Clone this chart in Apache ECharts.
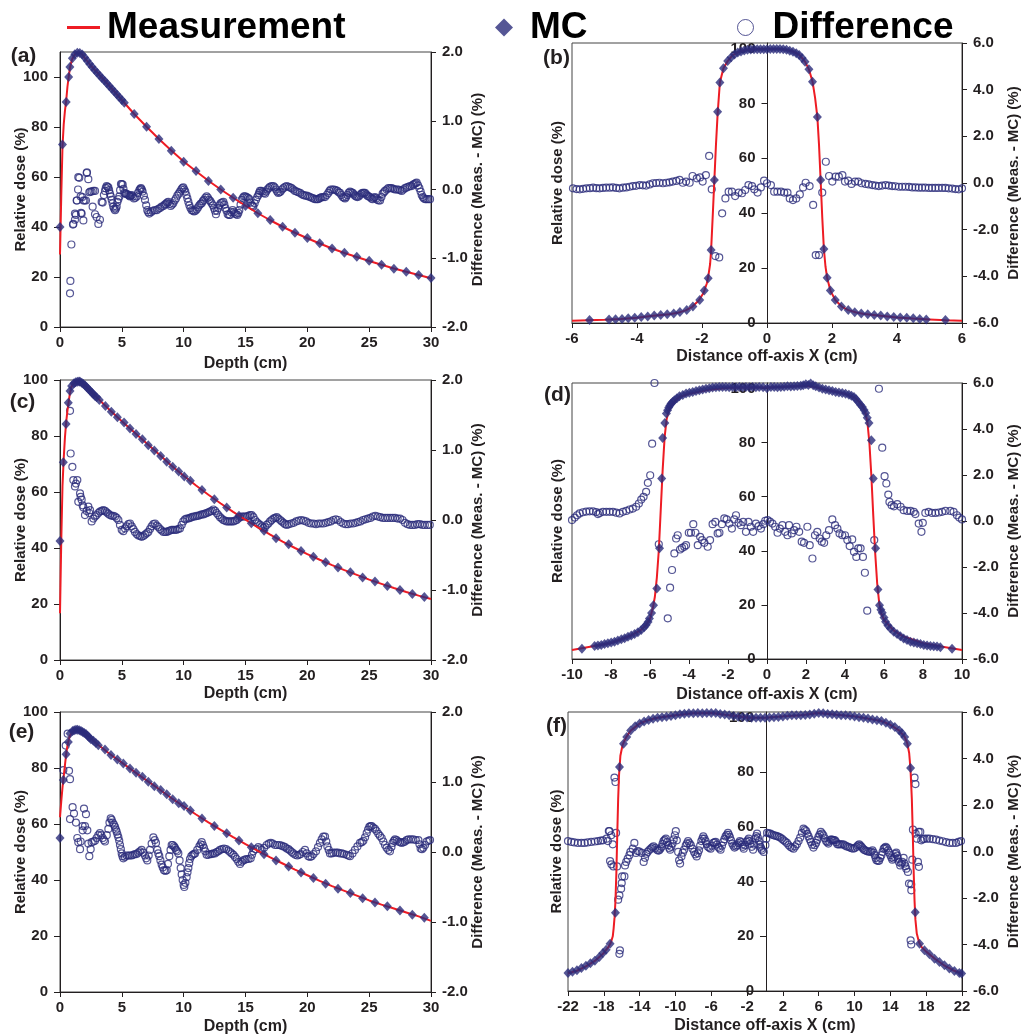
<!DOCTYPE html>
<html><head><meta charset="utf-8">
<script src="https://cdn.jsdelivr.net/npm/echarts@6/dist/echarts.min.js"></script>
<style>html,body{margin:0;padding:0;background:#fff}#c{width:1022px;height:1036px}</style>
</head><body><div id="c"></div>
<script>
// ---------- Panel (a) : depth dose, small field ----------
const measA = [[0,29],[0.1,52],[0.2,72],[0.3,81],[0.4,86.5],[0.5,90.5],[0.6,96],[0.7,100],[0.8,103.5],[0.9,105.8],[1.0,107.3],[1.2,109],[1.4,109.7],[1.6,109.6],[1.8,109],[2.0,107.6],[2.5,104.5],[3,101.8],[3.5,99.1],[4,96.4],[4.5,93.6],[5,90.8],[6,85.2],[7,80.1],[8,75.2],[9,70.6],[10,66.2],[11,62.3],[12,58.5],[13,55],[14,51.7],[15,48.5],[16,45.5],[17,42.7],[18,40.1],[19,37.7],[20,35.5],[21,33.4],[22,31.4],[23,29.6],[24,28],[25,26.4],[26,24.9],[27,23.4],[28,22.1],[29,20.8],[30,19.5]];
const mcA = [[0,40],[0.2,73],[0.5,90],[0.7,100],[0.8,104],[1.0,107.5],[1.2,109.1],[1.4,109.7],[1.6,109.6],[1.8,109],[2.0,107.8],[2.2,106.5],[2.4,105.2],[2.6,104],[2.8,102.8],[3.0,101.7],[3.2,100.6],[3.4,99.5],[3.6,98.5],[3.8,97.4],[4.0,96.3],[4.2,95.2],[4.4,94.1],[4.6,93],[4.8,91.9],[5.0,90.8],[5.2,89.7],[6,85.2],[7,80.1],[8,75.2],[9,70.5],[10,66.1],[11,62.4],[12,58.4],[13,55],[14,51.7],[15,48.4],[16,45.5],[17,42.8],[18,40.1],[19,37.7],[20,35.6],[21,33.5],[22,31.4],[23,29.7],[24,28.1],[25,26.5],[26,24.9],[27,23.3],[28,22.1],[29,20.8],[30,19.6]];
const diffA = [[0.81,-1.51],[0.84,-1.33],[0.92,-0.8],[1.05,-0.51],[1.08,-0.5],[1.21,-0.44],[1.21,-0.35],[1.29,-0.37],[1.35,-0.16],[1.37,-0.16],[1.46,0],[1.48,0.18],[1.56,0.17],[1.67,-0.1],[1.70,-0.34],[1.75,-0.35],[1.81,-0.11],[1.89,-0.45],[1.89,-0.16],[1.99,-0.16],[2.1,-0.16],[2.16,0.24],[2.18,0.25],[2.29,0.15],[2.37,-0.04],[2.45,-0.03],[2.56,-0.03],[2.64,-0.25],[2.70,-0.02],[2.83,-0.02],[2.83,-0.36],[2.96,-0.4],[3.10,-0.5],[3.23,-0.44],[3.37,-0.18],[3.45,-0.19],[3.55,-0.08],[3.64,-0.02],[3.7,0.02],[3.77,0.05],[3.84,0.04],[3.91,0.03],[3.97,-0.01],[4.04,-0.06],[4.11,-0.1],[4.18,-0.15],[4.25,-0.2],[4.31,-0.25],[4.38,-0.28],[4.45,-0.3],[4.52,-0.28],[4.58,-0.25],[4.64,-0.18],[4.72,-0.14],[4.8,-0.1],[4.86,-0.01],[4.93,0.08],[5.0,0.08],[5.07,0.07],[5.13,0.01],[5.2,-0.05],[5.27,-0.06],[5.35,-0.06],[5.44,-0.07],[5.53,-0.08],[5.6,-0.09],[5.66,-0.1],[5.73,-0.09],[5.8,-0.08],[5.89,-0.1],[5.98,-0.13],[6.09,-0.12],[6.2,-0.1],[6.31,-0.05],[6.42,-0.01],[6.49,0.01],[6.55,0.02],[6.62,0],[6.68,-0.03],[6.78,-0.09],[6.87,-0.15],[6.97,-0.23],[7.06,-0.3],[7.14,-0.33],[7.22,-0.35],[7.36,-0.33],[7.49,-0.31],[7.66,-0.3],[7.82,-0.3],[7.96,-0.28],[8.09,-0.27],[8.22,-0.25],[8.36,-0.24],[8.47,-0.22],[8.57,-0.21],[8.66,-0.19],[8.76,-0.18],[8.86,-0.21],[8.95,-0.24],[9.05,-0.22],[9.16,-0.2],[9.27,-0.16],[9.38,-0.13],[9.49,-0.09],[9.6,-0.06],[9.71,-0.03],[9.81,0],[9.89,0.02],[9.97,0.03],[10.05,0],[10.13,-0.03],[10.22,-0.08],[10.3,-0.13],[10.38,-0.18],[10.46,-0.23],[10.55,-0.27],[10.65,-0.3],[10.75,-0.31],[10.84,-0.32],[10.95,-0.31],[11.05,-0.29],[11.16,-0.26],[11.27,-0.23],[11.37,-0.21],[11.46,-0.2],[11.55,-0.17],[11.64,-0.15],[11.75,-0.12],[11.86,-0.1],[11.96,-0.12],[12.05,-0.15],[12.16,-0.17],[12.26,-0.2],[12.36,-0.23],[12.45,-0.27],[12.53,-0.31],[12.61,-0.36],[12.7,-0.31],[12.8,-0.27],[12.9,-0.23],[12.99,-0.2],[13.1,-0.19],[13.21,-0.18],[13.29,-0.22],[13.37,-0.27],[13.47,-0.31],[13.56,-0.36],[13.66,-0.37],[13.75,-0.37],[13.86,-0.33],[13.96,-0.3],[14.06,-0.33],[14.15,-0.35],[14.25,-0.36],[14.34,-0.37],[14.42,-0.34],[14.5,-0.3],[14.6,-0.22],[14.69,-0.15],[14.79,-0.12],[14.88,-0.1],[14.98,-0.1],[15.09,-0.11],[15.2,-0.12],[15.31,-0.14],[15.41,-0.19],[15.5,-0.23],[15.57,-0.24],[15.63,-0.25],[15.74,-0.2],[15.85,-0.15],[15.95,-0.11],[16.04,-0.08],[16.1,-0.05],[16.17,-0.02],[16.28,-0.02],[16.39,-0.03],[16.48,-0.05],[16.58,-0.06],[16.68,-0.03],[16.77,0],[16.88,0.02],[16.98,0.04],[17.11,0.05],[17.25,0.05],[17.36,0.03],[17.47,0],[17.56,-0.03],[17.65,-0.05],[17.75,-0.04],[17.84,-0.03],[17.95,0],[18.06,0.02],[18.2,0.04],[18.33,0.05],[18.47,0.04],[18.6,0.03],[18.73,0.02],[18.87,0],[19.0,-0.02],[19.14,-0.03],[19.27,-0.04],[19.41,-0.05],[19.55,-0.07],[19.68,-0.08],[19.82,-0.09],[19.95,-0.09],[20.09,-0.1],[20.22,-0.11],[20.36,-0.12],[20.49,-0.13],[20.62,-0.14],[20.75,-0.14],[20.86,-0.14],[20.97,-0.13],[21.06,-0.12],[21.16,-0.11],[21.3,-0.11],[21.43,-0.11],[21.57,-0.08],[21.7,-0.05],[21.8,-0.02],[21.89,0],[22.03,0],[22.16,0],[22.3,-0.01],[22.43,-0.02],[22.54,-0.04],[22.64,-0.05],[22.75,-0.08],[22.86,-0.11],[22.96,-0.12],[23.05,-0.13],[23.14,-0.11],[23.23,-0.08],[23.34,-0.05],[23.45,-0.03],[23.56,-0.04],[23.67,-0.05],[23.76,-0.07],[23.85,-0.09],[23.95,-0.1],[24.04,-0.11],[24.15,-0.1],[24.26,-0.08],[24.37,-0.06],[24.47,-0.05],[24.57,-0.05],[24.66,-0.05],[24.76,-0.07],[24.85,-0.09],[24.96,-0.1],[25.07,-0.11],[25.18,-0.13],[25.28,-0.14],[25.38,-0.12],[25.47,-0.11],[25.57,-0.13],[25.66,-0.15],[25.77,-0.16],[25.88,-0.16],[25.99,-0.11],[26.09,-0.06],[26.19,-0.04],[26.28,-0.02],[26.42,0],[26.55,0.02],[26.69,0.02],[26.82,0.02],[26.96,0.01],[27.09,0],[27.23,0],[27.36,0],[27.5,-0.01],[27.63,-0.02],[27.77,0],[27.9,0.02],[28.04,0.03],[28.17,0.04],[28.3,0.05],[28.44,0.05],[28.55,0.07],[28.65,0.08],[28.75,0.09],[28.84,0.1],[28.95,0.06],[29.06,0.02],[29.16,-0.03],[29.25,-0.08],[29.34,-0.11],[29.43,-0.13],[29.54,-0.14],[29.65,-0.14],[29.79,-0.14],[29.92,-0.14]];

// ---------- Panel (b) : off-axis profile, small field ----------
const measB = [[-6,0.8],[-5.5,1.0],[-5,1.2],[-4.5,1.5],[-4,1.9],[-3.5,2.6],[-3,3.2],[-2.75,3.7],[-2.5,4.6],[-2.3,5.9],[-2.1,8.2],[-1.95,11],[-1.85,14.5],[-1.8,17.5],[-1.75,21.5],[-1.72,26.5],[-1.67,39],[-1.62,52],[-1.57,65],[-1.52,76],[-1.45,87.6],[-1.34,92.8],[-1.21,95.4],[-1.06,97.6],[-0.85,98.8],[-0.65,99.4],[-0.4,99.7],[0,99.8],[0.4,99.8],[0.6,99.5],[0.8,98.9],[1.0,97.7],[1.17,95.2],[1.29,92.4],[1.4,88],[1.48,82],[1.55,75],[1.6,65],[1.65,52],[1.7,38.5],[1.75,27],[1.8,20.5],[1.85,16.5],[1.95,11.8],[2.1,8.4],[2.3,6],[2.5,4.7],[2.75,3.8],[3,3.3],[3.5,2.6],[4,2],[4.5,1.6],[5,1.3],[5.5,1.0],[6,0.8]];
const mcB = [[-5.46,1.1],[-4.86,1.3],[-4.66,1.4],[-4.46,1.5],[-4.27,1.7],[-4.07,1.9],[-3.87,2.2],[-3.67,2.4],[-3.47,2.7],[-3.27,2.9],[-3.07,3.2],[-2.87,3.5],[-2.68,4.0],[-2.47,4.7],[-2.28,6.0],[-2.07,8.4],[-1.93,11.8],[-1.81,16.3],[-1.72,26.6],[-1.62,52.1],[-1.52,77],[-1.45,87.6],[-1.34,92.8],[-1.21,95.4],[-1.1,96.8],[-1.0,97.8],[-0.9,98.5],[-0.8,98.9],[-0.7,99.3],[-0.6,99.5],[-0.5,99.6],[-0.4,99.7],[-0.3,99.7],[-0.2,99.7],[-0.1,99.7],[0,99.7],[0.1,99.8],[0.2,99.8],[0.3,99.8],[0.4,99.8],[0.5,99.7],[0.6,99.5],[0.7,99.2],[0.8,98.8],[0.9,98.3],[0.99,97.6],[1.08,96.5],[1.17,95.2],[1.29,92.4],[1.4,87.9],[1.55,75],[1.65,52.1],[1.75,27],[1.85,16.5],[1.95,11.8],[2.1,8.4],[2.29,6],[2.5,4.7],[2.7,3.9],[2.9,3.5],[3.1,3.2],[3.3,2.9],[3.5,2.7],[3.7,2.4],[3.9,2.2],[4.1,2.0],[4.3,1.9],[4.5,1.7],[4.7,1.5],[4.9,1.3],[5.49,1.1]];
const diffB = [[-5.97,-0.23],[-5.86,-0.26],[-5.76,-0.27],[-5.66,-0.25],[-5.56,-0.23],[-5.45,-0.22],[-5.35,-0.2],[-5.25,-0.22],[-5.15,-0.23],[-5.05,-0.21],[-4.95,-0.2],[-4.84,-0.2],[-4.74,-0.19],[-4.64,-0.21],[-4.54,-0.23],[-4.43,-0.2],[-4.33,-0.19],[-4.23,-0.16],[-4.13,-0.13],[-4.03,-0.12],[-3.92,-0.09],[-3.82,-0.1],[-3.72,-0.11],[-3.61,-0.06],[-3.51,-0.01],[-3.41,0],[-3.31,0.01],[-3.2,-0.01],[-3.1,0.01],[-3.0,0.03],[-2.9,0.06],[-2.79,0.09],[-2.69,0.13],[-2.59,0.01],[-2.49,0.06],[-2.38,0.01],[-2.29,0.3],[-2.16,0.2],[-2.06,0.24],[-1.98,0.06],[-1.88,0.34],[-1.78,1.16],[-1.7,-0.27],[-1.59,-3.13],[-1.47,-3.19],[-1.38,-1.3],[-1.28,-0.66],[-1.18,-0.37],[-1.08,-0.37],[-0.98,-0.56],[-0.87,-0.41],[-0.77,-0.44],[-0.67,-0.3],[-0.57,-0.09],[-0.46,-0.13],[-0.39,-0.27],[-0.29,-0.41],[-0.19,-0.19],[-0.09,0.1],[0,-0.01],[0.12,-0.09],[0.22,-0.37],[0.32,-0.37],[0.43,-0.37],[0.53,-0.41],[0.63,-0.41],[0.7,-0.66],[0.8,-0.73],[0.9,-0.66],[1.01,-0.49],[1.11,-0.19],[1.19,0.01],[1.31,-0.13],[1.42,-0.94],[1.5,-3.09],[1.6,-3.09],[1.7,-0.41],[1.81,0.91],[1.91,0.3],[2.01,0.06],[2.11,0.27],[2.21,0.27],[2.32,0.34],[2.4,0.06],[2.5,0.1],[2.6,-0.04],[2.71,0.06],[2.81,0.06],[2.91,-0.01],[3.03,-0.04],[3.13,-0.06],[3.24,-0.09],[3.34,-0.11],[3.44,-0.13],[3.54,-0.11],[3.65,-0.09],[3.75,-0.11],[3.85,-0.13],[3.95,-0.14],[4.06,-0.16],[4.16,-0.16],[4.26,-0.16],[4.37,-0.17],[4.47,-0.19],[4.57,-0.19],[4.67,-0.2],[4.77,-0.2],[4.87,-0.2],[4.98,-0.21],[5.08,-0.21],[5.18,-0.21],[5.28,-0.21],[5.39,-0.21],[5.49,-0.21],[5.59,-0.23],[5.7,-0.24],[5.8,-0.26],[5.9,-0.27],[6.0,-0.23]];

// ---------- Panel (c) : depth dose, medium field ----------
const measC = [[0,16.7],[0.1,42],[0.2,62],[0.3,72],[0.4,79.5],[0.5,85],[0.6,89],[0.7,92.3],[0.8,95.2],[0.9,97.2],[1.0,98.3],[1.2,99.1],[1.4,99.5],[1.6,99.5],[1.8,98.9],[2.0,98.1],[2.5,95.9],[3,93.7],[3.5,91.5],[4,89.4],[5,85.3],[6,81.3],[7,77.4],[8,73.5],[9,69.5],[10,65.8],[11,62.3],[12,59],[13,55.9],[14,52.9],[15,50.1],[16,47.4],[17,44.8],[18,42.3],[19,40],[20,37.8],[21,35.8],[22,33.9],[23,32.1],[24,30.4],[25,28.7],[26,27.2],[27,25.7],[28,24.3],[29,23],[30,21.8]];
const mcC = [[0,42.5],[0.27,70.6],[0.49,84.3],[0.67,91.9],[0.81,96.1],[0.94,97.9],[1.13,98.8],[1.27,99.2],[1.4,99.4],[1.54,99.5],[1.62,99.4],[1.76,99],[1.89,98.6],[2.03,98],[2.16,97.4],[2.3,96.8],[2.43,96.2],[2.57,95.5],[2.7,94.9],[2.83,94.3],[2.96,93.8],[3.18,92.9],[3.67,90.7],[4.15,88.7],[4.64,86.7],[5.18,84.8],[5.66,82.7],[6.15,80.7],[6.66,78.8],[7.14,76.7],[7.63,74.8],[8.14,72.9],[8.63,70.8],[9.11,69],[9.6,67.3],[10.05,65.5],[10.54,64],[11.48,60.7],[12.48,57.4],[13.48,54.5],[14.47,51.5],[15.47,48.8],[16.5,46.2],[17.47,43.5],[18.49,41.3],[19.49,38.9],[20.49,36.9],[21.48,34.9],[22.48,33],[23.48,31.3],[24.47,29.5],[25.47,28],[26.47,26.4],[27.49,25],[28.49,23.6],[29.46,22.5]];
const diffC = [[0.81,1.56],[0.86,0.95],[1.0,0.76],[1.08,0.57],[1.21,0.48],[1.29,0.52],[1.4,0.57],[1.48,0.26],[1.62,0.38],[1.67,0.33],[1.75,0.29],[1.83,0.21],[1.89,0.18],[2.02,0.07],[2.16,0.13],[2.29,0.19],[2.37,0.1],[2.43,0.14],[2.56,-0.02],[2.7,0.02],[2.83,0.05],[2.96,0.07],[3.1,0.1],[3.23,0.12],[3.37,0.13],[3.5,0.14],[3.64,0.13],[3.77,0.11],[3.9,0.09],[4.04,0.07],[4.18,0.06],[4.31,0.06],[4.45,0.05],[4.58,0.03],[4.72,0],[4.85,-0.07],[4.99,-0.14],[5.12,-0.16],[5.26,-0.12],[5.39,-0.09],[5.53,-0.06],[5.66,-0.05],[5.8,-0.09],[5.93,-0.13],[6.06,-0.17],[6.2,-0.2],[6.33,-0.22],[6.47,-0.23],[6.6,-0.24],[6.74,-0.23],[6.87,-0.21],[7.01,-0.19],[7.14,-0.17],[7.28,-0.13],[7.41,-0.09],[7.55,-0.06],[7.68,-0.05],[7.82,-0.08],[7.95,-0.1],[8.09,-0.13],[8.22,-0.15],[8.36,-0.17],[8.5,-0.17],[8.63,-0.17],[8.76,-0.16],[8.9,-0.15],[9.03,-0.14],[9.16,-0.14],[9.3,-0.14],[9.43,-0.14],[9.57,-0.13],[9.7,-0.12],[9.84,-0.07],[9.97,-0.02],[10.11,0.01],[10.24,0.02],[10.38,0.02],[10.51,0.03],[10.65,0.04],[10.78,0.05],[10.92,0.05],[11.05,0.06],[11.19,0.06],[11.32,0.07],[11.46,0.08],[11.59,0.08],[11.73,0.09],[11.86,0.1],[12.0,0.11],[12.13,0.12],[12.27,0.13],[12.4,0.15],[12.54,0.13],[12.67,0.1],[12.8,0.07],[12.94,0.04],[13.07,0.02],[13.2,0],[13.34,-0.01],[13.48,-0.02],[13.61,-0.02],[13.75,-0.02],[13.88,-0.02],[14.02,-0.02],[14.15,-0.01],[14.29,0],[14.42,0.02],[14.56,0.04],[14.69,0.05],[14.83,0.05],[14.96,0.05],[15.1,0.05],[15.23,0.06],[15.37,0.07],[15.5,0.07],[15.64,0.04],[15.77,0],[15.91,-0.03],[16.04,-0.05],[16.18,-0.07],[16.31,-0.09],[16.45,-0.11],[16.58,-0.1],[16.72,-0.07],[16.85,-0.05],[16.99,-0.02],[17.12,0],[17.26,0.02],[17.39,0.03],[17.53,0.04],[17.66,0.02],[17.8,0],[17.93,-0.02],[18.07,-0.04],[18.2,-0.06],[18.34,-0.07],[18.5,-0.06],[18.7,-0.05],[18.9,-0.04],[19.1,-0.02],[19.3,-0.01],[19.5,0],[19.7,-0.01],[19.9,-0.02],[20.1,-0.04],[20.3,-0.05],[20.5,-0.05],[20.7,-0.06],[20.9,-0.05],[21.1,-0.05],[21.3,-0.05],[21.5,-0.04],[21.7,-0.03],[21.9,-0.02],[22.1,0],[22.3,0.01],[22.5,0],[22.7,-0.03],[22.9,-0.05],[23.1,-0.06],[23.3,-0.06],[23.5,-0.05],[23.7,-0.05],[23.9,-0.04],[24.1,-0.03],[24.3,-0.02],[24.5,0],[24.7,0.01],[24.9,0.02],[25.1,0.03],[25.3,0.05],[25.5,0.06],[25.7,0.05],[25.9,0.04],[26.1,0.03],[26.3,0.03],[26.5,0.03],[26.7,0.03],[26.9,0.03],[27.1,0.03],[27.3,0.02],[27.5,0.02],[27.7,0],[27.9,-0.04],[28.1,-0.06],[28.3,-0.07],[28.5,-0.07],[28.7,-0.07],[28.9,-0.06],[29.1,-0.06],[29.3,-0.07],[29.5,-0.07],[29.7,-0.07],[29.9,-0.07]];

// ---------- Panel (d) : off-axis profile, medium field ----------
const measD = [[-10,3.3],[-9,4.6],[-8,5.9],[-7,8.6],[-6.5,10.5],[-6.2,12.5],[-6,15],[-5.85,19],[-5.75,23],[-5.65,30],[-5.55,40],[-5.45,55],[-5.35,70],[-5.25,82],[-5.15,88.5],[-5.05,91.5],[-4.9,93.8],[-4.7,95.5],[-4.5,96.8],[-4,98],[-3.5,98.8],[-3,99.5],[-2,100.2],[-1,100.3],[0,100.3],[1,100.6],[2,101],[2.5,100.5],[3,99.5],[3.5,98.8],[4,98],[4.5,96.6],[4.7,95.3],[4.9,93.5],[5.05,91],[5.15,87.5],[5.25,80],[5.35,68],[5.45,53],[5.55,39],[5.65,28],[5.75,21],[5.85,17],[6,14.5],[6.5,10.5],[7,8.3],[8,5.8],[9,4.5],[10,3.3]];
const mcD = [[-9.49,3.8],[-8.84,4.8],[-8.67,5.0],[-8.5,5.2],[-8.33,5.5],[-8.16,5.8],[-7.99,6.1],[-7.82,6.4],[-7.65,6.8],[-7.47,7.3],[-7.3,7.7],[-7.13,8.2],[-6.96,8.7],[-6.79,9.2],[-6.62,9.9],[-6.45,10.7],[-6.3,11.7],[-6.2,12.6],[-6.1,13.7],[-6.03,15],[-5.92,17],[-5.82,19.9],[-5.65,26.1],[-5.51,40.9],[-5.4,66.7],[-5.35,81.7],[-5.24,87.2],[-5.16,90.7],[-5.1,91.9],[-5.04,92.9],[-4.98,93.7],[-4.92,94.4],[-4.84,95],[-4.75,95.6],[-4.62,96.4],[-4.49,97.1],[-4.32,97.6],[-4.15,98.1],[-3.98,98.4],[-3.81,98.7],[-3.64,99],[-3.47,99.3],[-3.3,99.6],[-3.13,99.9],[-2.96,100.1],[-2.79,100.3],[-2.62,100.4],[-2.45,100.5],[-2.28,100.5],[-2.11,100.5],[-1.94,100.4],[-1.76,100.5],[-1.59,100.4],[-1.42,100.5],[-1.25,100.4],[-1.08,100.5],[-0.91,100.4],[-0.74,100.5],[-0.57,100.4],[-0.4,100.5],[-0.2,100.4],[0,100.1],[0.2,100.5],[0.37,100.5],[0.54,100.4],[0.71,100.5],[0.88,100.6],[1.05,100.8],[1.22,100.7],[1.39,100.8],[1.56,100.9],[1.73,101],[1.86,101.2],[1.99,101.5],[2.12,101.3],[2.24,101.8],[2.37,101.2],[2.5,100.8],[2.67,100.3],[2.84,99.9],[3.01,99.6],[3.18,99.3],[3.35,99],[3.52,98.7],[3.69,98.5],[3.86,98.3],[4.03,98],[4.2,97.7],[4.33,97.3],[4.46,96.8],[4.57,96],[4.68,95],[4.79,94],[4.89,93.1],[4.98,92],[5.06,90.9],[5.14,89.2],[5.23,87.2],[5.35,80.8],[5.45,66.7],[5.57,40.9],[5.69,25.7],[5.77,19.9],[5.84,18.2],[5.91,17.1],[6.0,15.3],[6.08,13.8],[6.2,12.4],[6.33,11.3],[6.5,10.1],[6.67,9.2],[6.84,8.4],[7.01,7.6],[7.18,7],[7.36,6.4],[7.53,6.1],[7.7,5.8],[7.87,5.5],[8.04,5.2],[8.21,5],[8.38,4.8],[8.55,4.7],[8.72,4.6],[8.89,4.3],[9.49,3.8]];
const diffD = [[-10,0.04],[-9.86,0.15],[-9.74,0.25],[-9.61,0.33],[-9.44,0.38],[-9.27,0.41],[-9.1,0.42],[-8.92,0.42],[-8.76,0.39],[-8.67,0.3],[-8.58,0.35],[-8.41,0.4],[-8.24,0.4],[-8.07,0.4],[-7.9,0.4],[-7.73,0.36],[-7.56,0.33],[-7.39,0.4],[-7.22,0.44],[-7.05,0.5],[-6.88,0.54],[-6.71,0.62],[-6.57,0.76],[-6.45,0.93],[-6.33,1.05],[-6.2,1.27],[-6.11,1.66],[-5.99,1.99],[-5.89,3.36],[-5.77,6.0],[-5.55,-1.01],[-5.09,-4.23],[-4.97,-2.9],[-4.87,-2.13],[-4.75,-1.41],[-4.66,-0.76],[-4.58,-0.62],[-4.46,-1.24],[-4.36,-1.17],[-4.24,-1.12],[-4.15,-1.05],[-4.01,-0.51],[-3.9,-0.51],[-3.78,-0.14],[-3.67,-0.51],[-3.55,-1.05],[-3.43,-0.69],[-3.33,-0.83],[-3.21,-0.95],[-3.04,-1.12],[-2.92,-0.83],[-2.79,-0.14],[-2.65,-0.04],[-2.53,-0.54],[-2.44,-0.51],[-2.31,-0.14],[-2.19,0.11],[-2.07,0.07],[-1.93,-0.11],[-1.8,-0.33],[-1.68,0.07],[-1.59,0.25],[-1.46,-0.08],[-1.34,-0.18],[-1.22,-0.04],[-1.08,-0.47],[-0.95,-0.04],[-0.83,-0.25],[-0.71,-0.47],[-0.57,-0.11],[-0.43,-0.22],[-0.31,-0.33],[-0.19,-0.14],[-0.09,0.01],[0.03,0.04],[0.15,-0.03],[0.28,-0.11],[0.42,-0.25],[0.54,-0.51],[0.66,-0.33],[0.79,-0.18],[0.93,-0.47],[1.05,-0.62],[1.13,-0.18],[1.27,-0.54],[1.39,-0.4],[1.51,-0.25],[1.65,-0.47],[1.78,-0.9],[1.9,-0.95],[2.07,-0.25],[2.19,-1.05],[2.33,-1.63],[2.46,-0.62],[2.58,-0.47],[2.7,-0.76],[2.81,-0.9],[2.93,-0.95],[3.04,-0.62],[3.18,-0.4],[3.35,0.07],[3.49,-0.18],[3.61,-0.33],[3.72,-0.54],[3.86,-0.62],[4.0,-0.62],[4.12,-0.83],[4.24,-1.09],[4.37,-0.8],[4.46,-1.34],[4.58,-1.56],[4.68,-1.19],[4.8,-1.19],[4.92,-1.56],[5.02,-2.25],[5.14,-3.9],[5.5,-0.83],[5.74,5.75],[5.91,3.19],[6.03,1.95],[6.12,1.63],[6.22,1.15],[6.28,0.83],[6.39,0.69],[6.51,0.64],[6.68,0.73],[6.85,0.62],[7.01,0.47],[7.19,0.44],[7.36,0.44],[7.53,0.4],[7.61,0.3],[7.78,-0.11],[7.92,-0.47],[7.99,-0.08],[8.12,0.35],[8.29,0.4],[8.46,0.35],[8.64,0.35],[8.81,0.37],[8.98,0.4],[9.15,0.44],[9.4,0.44],[9.57,0.4],[9.74,0.25],[9.86,0.15],[10,0.07]];

// ---------- Panel (e) : depth dose, large field ----------
const measE = [[0,62.4],[0.1,68],[0.2,73],[0.3,77],[0.4,81],[0.5,85],[0.6,88],[0.7,90],[0.8,91.5],[1.0,92.8],[1.2,93.5],[1.4,93.7],[1.6,93.5],[1.8,93],[2.0,92.4],[2.5,90.5],[3,88.6],[3.5,86.9],[4,85.1],[5,81.9],[6,78.7],[7,75.6],[8,72.5],[9,69.3],[10,66.3],[11,63.4],[12,60.6],[13,57.9],[14,55.3],[15,52.8],[16,50.4],[17,48.1],[18,45.9],[19,43.7],[20,41.7],[21,39.7],[22,37.8],[23,36.1],[24,34.4],[25,32.7],[26,31.2],[27,29.8],[28,28.4],[29,27],[30,25.4]];
const mcE = [[0,55],[0.27,75.7],[0.49,84.9],[0.67,89.3],[0.81,92.3],[1.02,93.2],[1.15,93.5],[1.29,93.7],[1.42,93.7],[1.56,93.5],[1.7,93.2],[1.83,92.9],[1.96,92.5],[2.1,92.1],[2.23,91.5],[2.37,90.9],[2.5,90.3],[2.7,89.7],[2.9,88.9],[3.1,88.1],[3.64,86.6],[4.12,84.6],[4.64,83.0],[5.12,81.6],[5.66,79.8],[6.15,78.3],[6.66,76.9],[7.14,75.1],[7.63,73.5],[8.14,72.1],[8.63,70.6],[9.11,68.8],[9.6,67.4],[10.03,66.4],[10.54,64.8],[11.48,62.0],[12.48,59.3],[13.48,56.7],[14.47,54.1],[15.47,51.7],[16.5,49.2],[17.47,47.0],[18.49,44.8],[19.49,42.7],[20.49,40.7],[21.48,38.7],[22.48,36.9],[23.48,35.4],[24.47,33.5],[25.47,32.0],[26.47,30.6],[27.49,29.1],[28.49,27.6],[29.46,26.5]];
const diffE = [[0.27,1.17],[0.46,1.52],[0.62,1.69],[0.73,1.16],[0.81,1.04],[0.81,0.47],[1.02,0.64],[1.13,0.55],[1.29,0.42],[1.4,0.2],[1.48,0.14],[1.62,0.04],[1.67,0.15],[1.83,0.37],[1.83,0.31],[1.94,0.62],[2.02,0.37],[2.1,0.54],[2.21,0.31],[2.29,0.12],[2.37,-0.06],[2.48,0.04],[2.56,0.14],[2.7,0.15],[2.83,0.16],[2.96,0.2],[3.1,0.24],[3.23,0.27],[3.34,0.24],[3.45,0.2],[3.55,0.17],[3.64,0.15],[3.78,0.24],[3.91,0.33],[4.0,0.42],[4.1,0.48],[4.18,0.46],[4.26,0.42],[4.36,0.39],[4.45,0.36],[4.52,0.32],[4.58,0.29],[4.65,0.25],[4.72,0.21],[4.79,0.16],[4.85,0.1],[4.92,0.04],[4.99,-0.02],[5.05,-0.06],[5.12,-0.09],[5.25,-0.07],[5.39,-0.05],[5.53,-0.05],[5.66,-0.05],[5.8,-0.05],[5.93,-0.04],[6.07,-0.03],[6.2,-0.03],[6.33,-0.01],[6.47,0.01],[6.6,0.03],[6.73,-0.01],[6.87,-0.05],[6.97,-0.09],[7.06,-0.12],[7.17,-0.05],[7.28,0.03],[7.41,0.12],[7.55,0.21],[7.66,0.17],[7.76,0.13],[7.87,0.03],[7.95,-0.02],[8.03,-0.06],[8.12,-0.12],[8.22,-0.18],[8.31,-0.22],[8.41,-0.26],[8.52,-0.27],[8.63,-0.26],[8.73,-0.17],[8.84,-0.06],[8.94,0.03],[9.03,0.1],[9.12,0.1],[9.22,0.08],[9.3,0.06],[9.38,0.03],[9.48,0.01],[9.57,-0.02],[9.67,-0.12],[9.76,-0.23],[9.84,-0.32],[9.92,-0.4],[10.0,-0.47],[10.05,-0.5],[10.14,-0.44],[10.24,-0.36],[10.31,-0.29],[10.38,-0.23],[10.45,-0.16],[10.51,-0.1],[10.62,-0.06],[10.73,-0.04],[10.83,-0.03],[10.92,-0.02],[11.1,0.03],[11.27,0.08],[11.37,0.11],[11.46,0.14],[11.55,0.1],[11.64,0.06],[11.75,0.01],[11.86,-0.04],[12.0,-0.04],[12.13,-0.03],[12.27,-0.03],[12.4,-0.02],[12.53,-0.02],[12.67,0],[12.8,0.01],[12.94,0.03],[13.1,0.04],[13.26,0.05],[13.43,0.04],[13.61,0.02],[13.75,0],[13.88,-0.02],[14.02,-0.04],[14.15,-0.07],[14.29,-0.1],[14.42,-0.14],[14.56,-0.17],[14.69,-0.14],[14.82,-0.12],[14.96,-0.11],[15.09,-0.1],[15.25,-0.1],[15.42,-0.09],[15.52,-0.04],[15.63,0.01],[15.83,0.04],[16.04,0.07],[16.17,0.05],[16.31,0.03],[16.5,0.06],[16.71,0.1],[16.88,0.12],[17.04,0.13],[17.2,0.12],[17.39,0.1],[17.56,0.1],[17.74,0.1],[17.9,0.09],[18.06,0.08],[18.2,0.07],[18.33,0.05],[18.47,0.04],[18.6,0.02],[18.74,0],[18.87,-0.02],[19.03,-0.04],[19.19,-0.05],[19.33,-0.04],[19.46,-0.03],[19.63,0],[19.81,0.03],[19.95,-0.02],[20.08,-0.06],[20.22,-0.07],[20.35,-0.06],[20.5,-0.03],[20.7,0.01],[20.86,0.07],[21.02,0.13],[21.16,0.18],[21.29,0.22],[21.43,0.22],[21.53,0.15],[21.62,0.08],[21.73,0.03],[21.83,-0.02],[21.97,-0.02],[22.1,-0.01],[22.3,-0.01],[22.47,-0.01],[22.64,-0.02],[22.8,-0.02],[22.96,-0.03],[23.18,-0.04],[23.32,-0.05],[23.45,-0.06],[23.65,-0.02],[23.85,0.03],[24.05,0.08],[24.26,0.13],[24.4,0.14],[24.53,0.16],[24.67,0.21],[24.8,0.27],[24.91,0.32],[25.01,0.36],[25.1,0.37],[25.2,0.37],[25.33,0.35],[25.47,0.33],[25.6,0.3],[25.74,0.26],[25.87,0.23],[26.01,0.2],[26.14,0.15],[26.28,0.1],[26.41,0.06],[26.55,0.03],[26.68,0.01],[26.8,0.07],[26.9,0.13],[27.0,0.16],[27.09,0.18],[27.22,0.17],[27.36,0.15],[27.5,0.14],[27.63,0.13],[27.77,0.14],[27.9,0.15],[28.03,0.17],[28.17,0.18],[28.37,0.18],[28.57,0.18],[28.77,0.17],[28.98,0.17],[29.07,0.11],[29.16,0.05],[29.27,0.04],[29.38,0.06],[29.52,0.1],[29.65,0.15],[29.8,0.16],[29.92,0.17]];

// ---------- Panel (f) : off-axis profile, large field ----------
const measF = [[-22,6.5],[-21,7.4],[-20,9.0],[-19,11.0],[-18,13.9],[-17.5,16],[-17.2,17.8],[-17,20],[-16.9,23],[-16.8,27],[-16.7,33],[-16.6,43],[-16.5,57],[-16.4,70],[-16.3,79],[-16.15,86],[-15.9,90],[-15.5,92.8],[-15,95.2],[-14,97.8],[-13,99.1],[-12,99.9],[-10,100.8],[-8,101.5],[-6,101.6],[-4,100.8],[-2,100.0],[0,99.9],[2,100.4],[4,100.8],[6,101.6],[8,101],[10,100.4],[12,99.3],[13,98.7],[14,97.3],[15,95.2],[15.6,92.9],[15.9,90.4],[16.1,87],[16.25,81],[16.4,70],[16.5,58],[16.6,44],[16.7,33],[16.8,26],[16.95,21],[17.2,17.8],[17.5,16],[18,14.4],[19,11.7],[20,9.4],[21,7.6],[22,6.3]];
const mcF = [[-22,6.6],[-21.5,7.0],[-21,7.6],[-20.5,8.4],[-20,9.2],[-19.5,10.1],[-19,11.1],[-18.5,12.4],[-18.1,13.9],[-17.74,15.1],[-17.3,17.3],[-16.7,28.6],[-16.25,81.9],[-15.8,90.4],[-15.44,92.9],[-15,95.2],[-14.5,96.8],[-14,97.8],[-13.5,98.5],[-13,99.1],[-12.5,99.5],[-12,99.9],[-11.5,100.1],[-11,100.3],[-10.5,100.5],[-10,100.8],[-9.5,101.2],[-9,101.4],[-8.5,101.5],[-8,101.5],[-7.5,101.6],[-7,101.5],[-6.5,101.6],[-6,101.6],[-5.5,101.6],[-5,101.3],[-4.5,101.1],[-4,100.8],[-3.5,100.5],[-3,100.3],[-2.5,100.2],[-2,100],[-1.5,99.9],[-1,99.9],[-0.5,99.9],[0,99.9],[0.5,100],[1,100.1],[1.5,100.2],[2,100.4],[2.5,100.6],[3,100.8],[3.5,100.8],[4,100.8],[4.5,100.9],[5,101.1],[5.5,101.4],[6,101.6],[6.5,101.5],[7,101.3],[7.5,101.2],[8,101],[8.5,100.8],[9,100.8],[9.5,100.6],[10,100.4],[10.5,100.1],[11,99.9],[11.5,99.6],[12,99.3],[12.5,99],[13,98.7],[13.5,98.1],[14,97.3],[14.5,96.5],[15,95.2],[15.3,94.2],[15.6,92.9],[15.9,90.4],[16.26,81.5],[16.78,28.8],[17.26,17.3],[17.81,14.9],[18.37,13.4],[18.93,11.8],[19.48,10.6],[20.04,9.4],[20.59,8.2],[21.15,7.3],[21.7,6.6],[21.96,6.4]];
const diffF = [[-22,0.45],[-21.63,0.41],[-21.3,0.39],[-20.9,0.37],[-20.5,0.37],[-20.15,0.37],[-19.8,0.39],[-19.4,0.41],[-19.0,0.43],[-18.66,0.45],[-18.35,0.47],[-18.1,0.48],[-17.7,0.55],[-17.55,0.45],[-17.44,0.88],[-17.37,0.88],[-17.3,-0.41],[-17.18,0.7],[-17.15,-0.55],[-17.0,0.31],[-16.93,-0.64],[-16.81,3.18],[-16.7,2.99],[-16.63,0.8],[-16.52,-0.64],[-16.4,-2.07],[-16.26,-1.89],[-16.26,-4.4],[-16.2,-4.25],[-16.07,-1.6],[-16.0,-1.36],[-15.96,-1.07],[-15.7,-1.07],[-15.63,-0.6],[-15.5,-0.45],[-15.33,-0.31],[-15.14,-0.16],[-15.03,-0.02],[-14.77,0.12],[-14.59,0.37],[-14.4,-0.06],[-14.22,0.02],[-14.03,0.0],[-13.77,-0.06],[-13.55,-0.45],[-13.4,-0.27],[-13.25,-0.1],[-13.11,-0.02],[-12.93,0.06],[-12.74,0.12],[-12.6,0.18],[-12.44,0.22],[-12.25,0.15],[-12.07,0.08],[-11.94,0.04],[-11.81,0.05],[-11.68,0.12],[-11.55,0.2],[-11.44,0.33],[-11.33,0.45],[-11.2,0.5],[-11.07,0.55],[-10.94,0.4],[-10.81,0.27],[-10.7,0.15],[-10.59,0.08],[-10.46,0.2],[-10.33,0.34],[-10.2,0.52],[-10.07,0.7],[-9.96,0.88],[-9.85,0.48],[-9.7,-0.02],[-9.59,-0.38],[-9.48,-0.52],[-9.33,-0.21],[-9.18,-0.05],[-9.03,0.08],[-8.85,0.25],[-8.72,0.35],[-8.59,0.45],[-8.44,0.36],[-8.29,0.27],[-8.1,0.12],[-7.92,-0.02],[-7.78,-0.12],[-7.63,-0.21],[-7.5,-0.08],[-7.37,0.05],[-7.24,0.25],[-7.11,0.45],[-6.99,0.55],[-6.89,0.65],[-6.76,0.55],[-6.63,0.45],[-6.5,0.32],[-6.37,0.2],[-6.22,0.16],[-6.07,0.12],[-5.92,0.25],[-5.77,0.37],[-5.64,0.39],[-5.51,0.41],[-5.38,0.3],[-5.25,0.2],[-5.1,0.14],[-4.96,0.08],[-4.81,0.25],[-4.66,0.41],[-4.53,0.53],[-4.4,0.65],[-4.27,0.72],[-4.14,0.8],[-4.03,0.72],[-3.92,0.62],[-3.79,0.48],[-3.66,0.34],[-3.53,0.25],[-3.4,0.17],[-3.25,0.22],[-3.11,0.27],[-2.96,0.36],[-2.81,0.45],[-2.68,0.4],[-2.55,0.3],[-2.46,0.2],[-2.37,0.12],[-2.22,0.27],[-2.07,0.41],[-1.94,0.48],[-1.81,0.55],[-1.72,0.45],[-1.63,0.34],[-1.48,0.2],[-1.33,0.08],[-1.2,0.3],[-1.07,0.55],[-0.98,0.66],[-0.89,0.77],[-0.8,0.6],[-0.7,0.45],[-0.6,0.3],[-0.51,0.2],[-0.42,0.12],[-0.33,0.05],[-0.14,-0.02],[0.04,0.27],[0.14,0.55],[0.23,0.8],[0.42,0.78],[0.6,0.77],[0.78,0.73],[0.97,0.7],[1.15,0.68],[1.34,0.66],[1.52,0.63],[1.71,0.6],[1.9,0.54],[2.08,0.48],[2.26,0.43],[2.45,0.37],[2.63,0.28],[2.82,0.2],[3.0,0.16],[3.19,0.12],[3.37,0.22],[3.56,0.31],[3.75,0.45],[3.93,0.6],[4.12,0.8],[4.3,0.98],[4.45,0.93],[4.6,0.88],[4.73,0.76],[4.86,0.65],[4.99,0.53],[5.12,0.41],[5.26,0.29],[5.41,0.17],[5.56,0.27],[5.71,0.37],[5.84,0.5],[5.97,0.63],[6.1,0.73],[6.23,0.84],[6.38,0.77],[6.52,0.7],[6.67,0.57],[6.82,0.45],[6.95,0.4],[7.08,0.34],[7.21,0.43],[7.34,0.51],[7.45,0.51],[7.56,0.5],[7.69,0.49],[7.82,0.48],[7.95,0.4],[8.08,0.31],[8.22,0.31],[8.37,0.31],[8.55,0.31],[8.74,0.31],[8.93,0.26],[9.12,0.22],[9.3,0.2],[9.49,0.17],[9.67,0.14],[9.86,0.12],[10.04,0.15],[10.23,0.2],[10.38,0.26],[10.52,0.31],[10.65,0.25],[10.78,0.2],[10.91,0.14],[11.04,0.08],[11.19,0.05],[11.34,0.02],[11.52,0.0],[11.71,-0.02],[11.86,0.0],[12.0,0.05],[12.13,-0.05],[12.26,-0.16],[12.36,-0.28],[12.45,-0.38],[12.6,-0.4],[12.74,-0.4],[12.87,-0.28],[13.0,-0.16],[13.13,-0.02],[13.26,0.12],[13.37,0.16],[13.48,0.2],[13.61,0.15],[13.74,0.05],[13.87,-0.05],[14.0,-0.16],[14.11,-0.26],[14.22,-0.35],[14.35,-0.3],[14.48,-0.24],[14.57,-0.1],[14.66,-0.05],[14.76,-0.18],[14.85,-0.31],[14.96,-0.45],[15.1,-0.6],[15.22,-0.52],[15.33,-0.45],[15.48,-0.27],[15.59,-0.52],[15.68,-0.63],[15.78,-0.74],[15.96,-0.88],[16.08,-1.38],[16.26,-3.82],[16.33,-4.0],[16.34,-1.67],[16.33,-1.41],[16.45,-0.35],[16.52,0.94],[16.7,3.18],[16.8,2.9],[16.82,0.77],[16.97,0.55],[17.08,-0.45],[17.15,0.84],[17.19,-0.66],[17.34,0.84],[17.45,0.48],[17.63,0.53],[17.82,0.55],[18.1,0.55],[18.37,0.55],[18.74,0.53],[19.11,0.51],[19.48,0.47],[19.85,0.44],[20.22,0.4],[20.6,0.37],[20.97,0.37],[21.34,0.37],[21.6,0.41],[21.89,0.45]];

// ---------- axis tick labels ----------
const ticksF = [-22,-18,-14,-10,-6,-2,2,6,10,14,18,22];
const panelLabels = ['(a)','(b)','(c)','(d)','(e)','(f)'];
const seriesNames = ['Measurement','MC','Difference'];

// ---------- styling / layout ----------
const INK = '#231f20';
const NAVY = '#2a2c7b';
const RED = '#ee1c24';
const FONT = '"Liberation Sans", Arial, sans-serif';
const lab = {color: INK, fontSize: 15, fontWeight: 'bold', fontFamily: FONT};

const panels = [
  {grid:{left:60, top:52, width:371, height:275}, x:{min:0,max:30,interval:5}, xName:'Depth (cm)', xGap:29, yMax:110, r:[-2,2,1], center:false, meas:measA, mc:mcA, diff:diffA, lbl:[23.5,56.5], yGap:32, rGap:39},
  {grid:{left:572, top:43, width:391, height:280}, x:{min:-6,max:6,interval:2}, xName:'Distance off-axis X (cm)', xGap:26, yMax:102, r:[-6,6,2], center:true, meas:measB, mc:mcB, diff:diffB, lbl:[556.5,58.5], yGap:202.5, rGap:44},
  {grid:{left:60, top:380, width:371, height:280}, x:{min:0,max:30,interval:5}, xName:'Depth (cm)', xGap:26, yMax:100, r:[-2,2,1], center:false, meas:measC, mc:mcC, diff:diffC, lbl:[22.5,402.5], yGap:32, rGap:39},
  {grid:{left:572, top:383, width:391, height:276}, x:{min:-10,max:10,interval:2}, xName:'Distance off-axis X (cm)', xGap:28, yMax:102, r:[-6,6,2], center:true, meas:measD, mc:mcD, diff:diffD, lbl:[557.5,395], yGap:202, rGap:44},
  {grid:{left:60, top:712, width:371, height:281}, x:{min:0,max:30,interval:5}, xName:'Depth (cm)', xGap:27, yMax:100, r:[-2,2,1], center:false, meas:measE, mc:mcE, diff:diffE, lbl:[21.5,732], yGap:32, rGap:39},
  {grid:{left:568, top:712, width:396, height:279}, x:{min:-22,max:22,custom:ticksF}, xName:'Distance off-axis X (cm)', xGap:27, yMax:102, r:[-6,6,2], center:true, meas:measF, mc:mcF, diff:diffF, lbl:[556.5,726], yGap:201.5, rGap:44}
];

const grids = [], xAxes = [], yAxes = [], series = [], graphics = [];
panels.forEach((p, i) => {
  grids.push(Object.assign({show:true, borderColor:'#444', borderWidth:1, containLabel:false}, p.grid));
  const xa = {
    gridIndex:i, type:'value', min:p.x.min, max:p.x.max,
    axisLine:{onZero:false, lineStyle:{color:INK, width:1}},
    axisTick:{length:5, lineStyle:{color:INK}},
    splitLine:{show:false},
    axisLabel:Object.assign({margin:8}, lab),
    name:p.xName, nameLocation:'middle', nameGap:p.xGap, nameMoveOverlap:false,
    nameTextStyle:{color:INK, fontSize:16, fontWeight:'bold', fontFamily:FONT}
  };
  if (p.x.custom) {
    xa.axisLabel.customValues = p.x.custom;
    xa.axisTick.customValues = p.x.custom;
  } else {
    xa.interval = p.x.interval;
  }
  xAxes.push(xa);
  // left dose axis; on the profile panels it sits on the x = 0 line (centre of a symmetric range)
  const half = p.grid.width / 2;
  yAxes.push({
    gridIndex:i, type:'value', min:0, max:p.yMax, interval:20, position:'left',
    offset: p.center ? -half : 0,
    axisLine:{show:true, onZero:false, lineStyle:{color:INK, width:1}},
    axisTick:{show:true, length:6, lineStyle:{color:INK}},
    splitLine:{show:false},
    axisLabel:Object.assign({margin:12, showMaxLabel: p.yMax === 100}, lab),
    name:'Relative dose (%)', nameLocation:'middle', nameGap:p.yGap, nameMoveOverlap:false,
    nameTextStyle:{color:INK, fontSize:15, fontWeight:'bold', fontFamily:FONT}
  });
  yAxes.push({
    gridIndex:i, type:'value', min:p.r[0], max:p.r[1], interval:p.r[2], position:'right',
    axisLine:{show:true, onZero:false, lineStyle:{color:INK, width:1}},
    axisTick:{show:true, length:5, lineStyle:{color:INK}},
    splitLine:{show:false},
    axisLabel:Object.assign({margin:11, formatter: v => v.toFixed(1)}, lab),
    name:'Difference (Meas. - MC) (%)', nameLocation:'middle', nameGap:p.rGap, nameMoveOverlap:false,
    nameTextStyle:{color:INK, fontSize:15, fontWeight:'bold', fontFamily:FONT}
  });
  series.push({
    name:'Difference', type:'scatter', xAxisIndex:i, yAxisIndex:2*i+1, data:p.diff,
    symbol:'circle', symbolSize:7, z:2,
    itemStyle:{color:'rgba(0,0,0,0)', borderColor:NAVY, borderWidth:1.2}
  });
  series.push({
    name:'Measurement', type:'line', xAxisIndex:i, yAxisIndex:2*i, data:p.meas,
    showSymbol:false, symbol:'none', z:3, lineStyle:{color:RED, width:2}, itemStyle:{color:RED}
  });
  series.push({
    name:'MC', type:'scatter', xAxisIndex:i, yAxisIndex:2*i, data:p.mc,
    symbol:'diamond', symbolSize:[9,10], z:4, itemStyle:{color:NAVY}
  });
  graphics.push({
    type:'text', x:p.lbl[0], y:p.lbl[1], z:10,
    style:{text:panelLabels[i], fill:INK, font:'bold 21px ' + FONT, align:'center', verticalAlign:'middle', textAlign:'center', textVerticalAlign:'middle'}
  });
});

const legendText = {color:'#000', fontSize:37, fontWeight:'bold', fontFamily:FONT};
const option = {
  animation:false,
  backgroundColor:'#fff',
  grid:grids, xAxis:xAxes, yAxis:yAxes, series:series, graphic:graphics,
  legend:[
    {data:[{name:seriesNames[0], icon:'rect'}], left:67, top:9, padding:0, itemWidth:33, itemHeight:3, selectedMode:false, textStyle:Object.assign({padding:[0,0,0,2]}, legendText), itemStyle:{color:RED}},
    {data:[{name:seriesNames[1], icon:'diamond'}], left:495, top:9, padding:0, itemWidth:18, itemHeight:18, selectedMode:false, textStyle:Object.assign({padding:[0,0,0,12]}, legendText), itemStyle:{color:NAVY}},
    {data:[{name:seriesNames[2], icon:'circle'}], left:737, top:9, padding:0, itemWidth:16, itemHeight:16, selectedMode:false, textStyle:Object.assign({padding:[0,0,0,14]}, legendText), itemStyle:{color:'rgba(0,0,0,0)', borderColor:NAVY, borderWidth:1}}
  ]
};
const chart = echarts.init(document.getElementById('c'), null, {renderer:'canvas'});
chart.setOption(option);
</script></body></html>
